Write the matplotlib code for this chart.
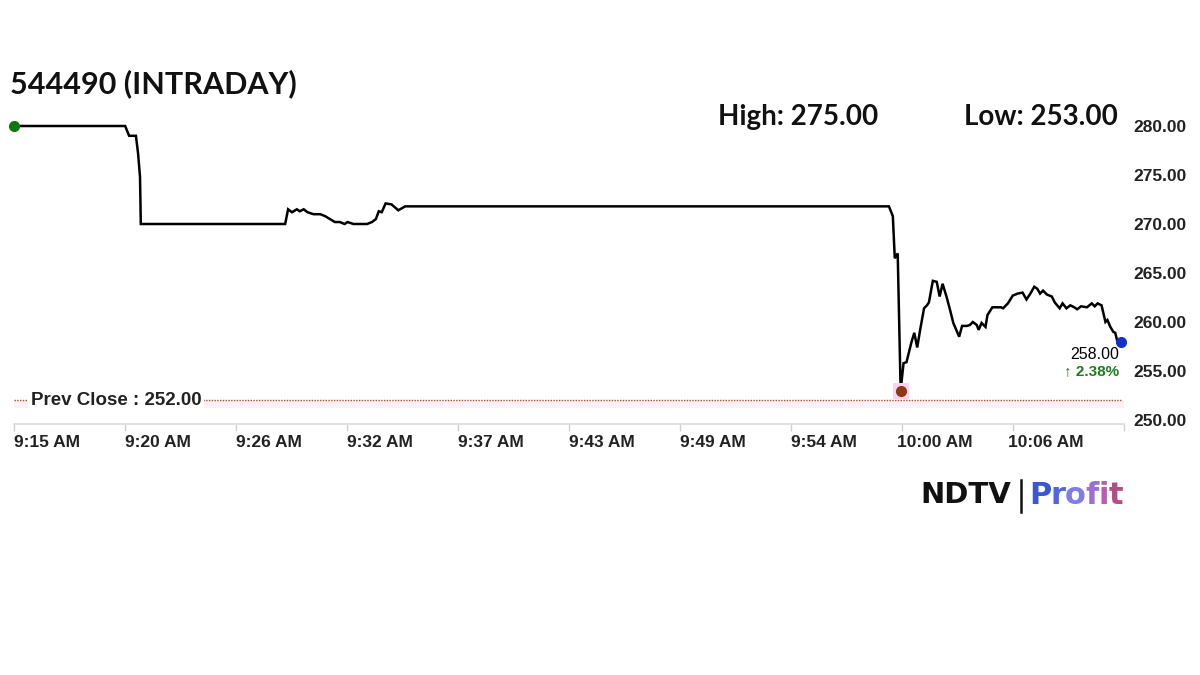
import matplotlib
matplotlib.use("Agg")
import matplotlib.pyplot as plt
import matplotlib.transforms as mtransforms

plt.rcParams['font.family'] = ['Liberation Sans', 'DejaVu Sans']

# ---------------- data ----------------
title = "544490 (INTRADAY)"
high_text = "High: 275.00"
low_text = "Low: 253.00"
prev_close = 252.00
last_price = 258.00
change_pct = 2.38

# minutes after 9:15 AM
minutes = [0.0, 5.7, 5.9, 6.25, 6.36, 6.46, 6.5, 13.9, 14.05, 14.25, 14.5, 14.65,
           14.85, 15.05, 15.35, 15.7, 15.95, 16.2, 16.45, 16.7, 16.95, 17.1, 17.4,
           18.1, 18.35, 18.55, 18.7, 18.85, 19.05, 19.35, 19.7, 20.05, 20.8, 44.85,
           45.05, 45.15, 45.3, 45.45, 45.55, 45.6, 45.75, 46.0, 46.15, 46.3, 46.45,
           46.65, 46.8, 46.9, 47.1, 47.3, 47.45, 47.6, 47.8, 48.0, 48.15, 48.3,
           48.45, 48.6, 48.85, 49.0, 49.15, 49.35, 49.45, 49.6, 49.8, 49.9, 50.15,
           50.4, 50.6, 50.7, 50.95, 51.2, 51.45, 51.7, 51.9, 52.1, 52.3, 52.45,
           52.6, 52.75, 52.95, 53.2, 53.35, 53.6, 53.75, 53.95, 54.15, 54.35, 54.5,
           54.7, 55.0, 55.25, 55.4, 55.55, 55.75, 55.95, 56.05, 56.2, 56.35, 56.45,
           56.55, 56.75]
prices = [280.0, 280.0, 279.0, 279.0, 277.2, 274.8, 270.0, 270.0, 271.5, 271.2, 271.5,
          271.3, 271.5, 271.2, 271.0, 271.0, 270.8, 270.5, 270.2, 270.2, 270.0, 270.2,
          270.0, 270.0, 270.2, 270.5, 271.3, 271.2, 272.1, 272.0, 271.4, 271.8, 271.8,
          271.8, 270.8, 266.5, 267.0, 253.0, 254.9, 255.8, 255.9, 257.9, 258.9, 257.4,
          259.2, 261.4, 261.7, 262.0, 264.2, 264.1, 262.6, 263.9, 262.6, 261.1, 259.9,
          259.2, 258.5, 259.6, 259.6, 259.7, 260.0, 259.7, 259.2, 259.9, 259.5, 260.7,
          261.5, 261.5, 261.5, 261.4, 261.9, 262.7, 262.9, 263.0, 262.3, 262.9, 263.6,
          263.4, 262.9, 263.2, 262.8, 262.6, 262.0, 261.4, 261.9, 261.4, 261.7, 261.5,
          261.3, 261.6, 261.5, 261.9, 261.6, 261.9, 261.7, 260.0, 260.2, 259.5, 259.0,
          258.9, 258.1, 258.0]

tick_step = 5.69
x_tick_labels = ["9:15 AM", "9:20 AM", "9:26 AM", "9:32 AM", "9:37 AM", "9:43 AM",
                 "9:49 AM", "9:54 AM", "10:00 AM", "10:06 AM", ""]
y_ticks = [250, 255, 260, 265, 270, 275, 280]

# ---------------- figure ----------------
W, H = 1200, 675
fig = plt.figure(figsize=(12, 6.75), dpi=100)
fig.patch.set_facecolor('white')

def fx(px):
    return px / W

def fy(py):
    return 1 - py / H

ax_left, ax_right, ax_top, ax_bot = 14, 1124, 120, 424
ax = fig.add_axes([fx(ax_left), fy(ax_bot), (ax_right - ax_left) / W, (ax_bot - ax_top) / H])
px_per_unit = 9.8
ax.set_ylim(250 - (ax_bot - 420) / px_per_unit, 280 + (126 - ax_top) / px_per_unit)
ax.set_xlim(0, tick_step * 10)

for s in ['top', 'left', 'right']:
    ax.spines[s].set_visible(False)
ax.spines['bottom'].set_color('#dcdcdc')
ax.spines['bottom'].set_linewidth(1.2)

# prev close
ax.axhspan(prev_close - 0.8, prev_close, color='#fdf0f9', lw=0, zorder=0)
ax.axhline(prev_close, xmin=0, xmax=(56.8) / (tick_step * 10), color='#a5542a',
           linestyle=(0, (1, 1)), linewidth=1.0, zorder=1)
ax.text(0.85, prev_close, "Prev Close : " + f"{prev_close:.2f}", fontsize=13.5,
        fontweight='bold', color='#222222', va='center', ha='left',
        bbox=dict(facecolor='white', edgecolor='none', pad=2), zorder=2)

# price line
ax.plot(minutes, prices, color='black', linewidth=1.8, zorder=3, solid_joinstyle='miter')

# markers
ax.plot(minutes[0], prices[0], 'o', color='#0b7a0b', markersize=7, clip_on=False, zorder=4)
ilow = prices.index(min(prices))
ax.plot(minutes[ilow], prices[ilow], 's', color='#f9d3f0', markersize=12, zorder=3.5,
        markeredgewidth=0)
ax.plot(minutes[ilow], prices[ilow], 'o', color='#8b3a12', markersize=7, zorder=4)
ax.plot(minutes[-1], prices[-1], 'o', color='#1530c8', markersize=7, clip_on=False, zorder=4)

# last price labels
ax.annotate(f"{last_price:.2f}", xy=(minutes[-1], prices[-1]), xytext=(-2, -13),
            textcoords='offset pixels', ha='right', va='center', fontsize=11.5,
            color='black')
ax.annotate("\u2191 " + f"{change_pct:.2f}%", xy=(minutes[-1], prices[-1]), xytext=(-2, -30),
            textcoords='offset pixels', ha='right', va='center', fontsize=11,
            color='#1d7a1d', fontweight='bold')

# x ticks
xt = [i * tick_step for i in range(len(x_tick_labels))]
ax.set_xticks(xt)
ax.set_xticklabels(x_tick_labels)
ax.tick_params(axis='x', direction='out', length=5, width=1, color='#d0d0d0', pad=3,
               labelsize=12.5, labelcolor='#222222')
offset = mtransforms.ScaledTranslation(0.325, 0, fig.dpi_scale_trans)
for lab in ax.get_xticklabels():
    lab.set_fontweight('bold')
    lab.set_transform(lab.get_transform() + offset)

# y ticks on right
ax.yaxis.tick_right()
ax.set_yticks(y_ticks)
ax.set_yticklabels([f"{v:.2f}" for v in y_ticks])
ax.tick_params(axis='y', length=0, pad=6.5, labelsize=12.5, labelcolor='#222222')
for lab in ax.get_yticklabels():
    lab.set_fontweight('bold')

# titles
fig.text(fx(10), fy(84), title, fontsize=22, fontweight='bold', family='Lato',
         va='center', ha='left', color='#111111')
fig.text(fx(718), fy(117), high_text, fontsize=20, fontweight='bold', family='Lato',
         va='center', ha='left', color='#111111')
fig.text(fx(964), fy(117), low_text, fontsize=20, fontweight='bold', family='Lato',
         va='center', ha='left', color='#111111')

# logo
fig.text(fx(920), fy(495), "NDTV", fontsize=21, fontweight='heavy', family='DejaVu Sans',
         va='center', ha='left', color='#111111')
fig.add_artist(plt.Line2D([fx(1021), fx(1021)], [fy(480), fy(512)], color='#111111',
                          linewidth=1.8))
fig.canvas.draw()
renderer = fig.canvas.get_renderer()
letters = "Profit"
colors = ['#3a58d6', '#4f66de', '#7d7ee6', '#9a70d8', '#bb5cb4', '#b34e84']
xpos = 1029
for ch, c in zip(letters, colors):
    t = fig.text(fx(xpos), fy(495), ch, fontsize=22, fontweight='bold', family='DejaVu Sans',
                 va='center', ha='left', color=c)
    bb = t.get_window_extent(renderer)
    xpos += bb.width - 0.5

fig.savefig("out.png", dpi=100, facecolor='white')
